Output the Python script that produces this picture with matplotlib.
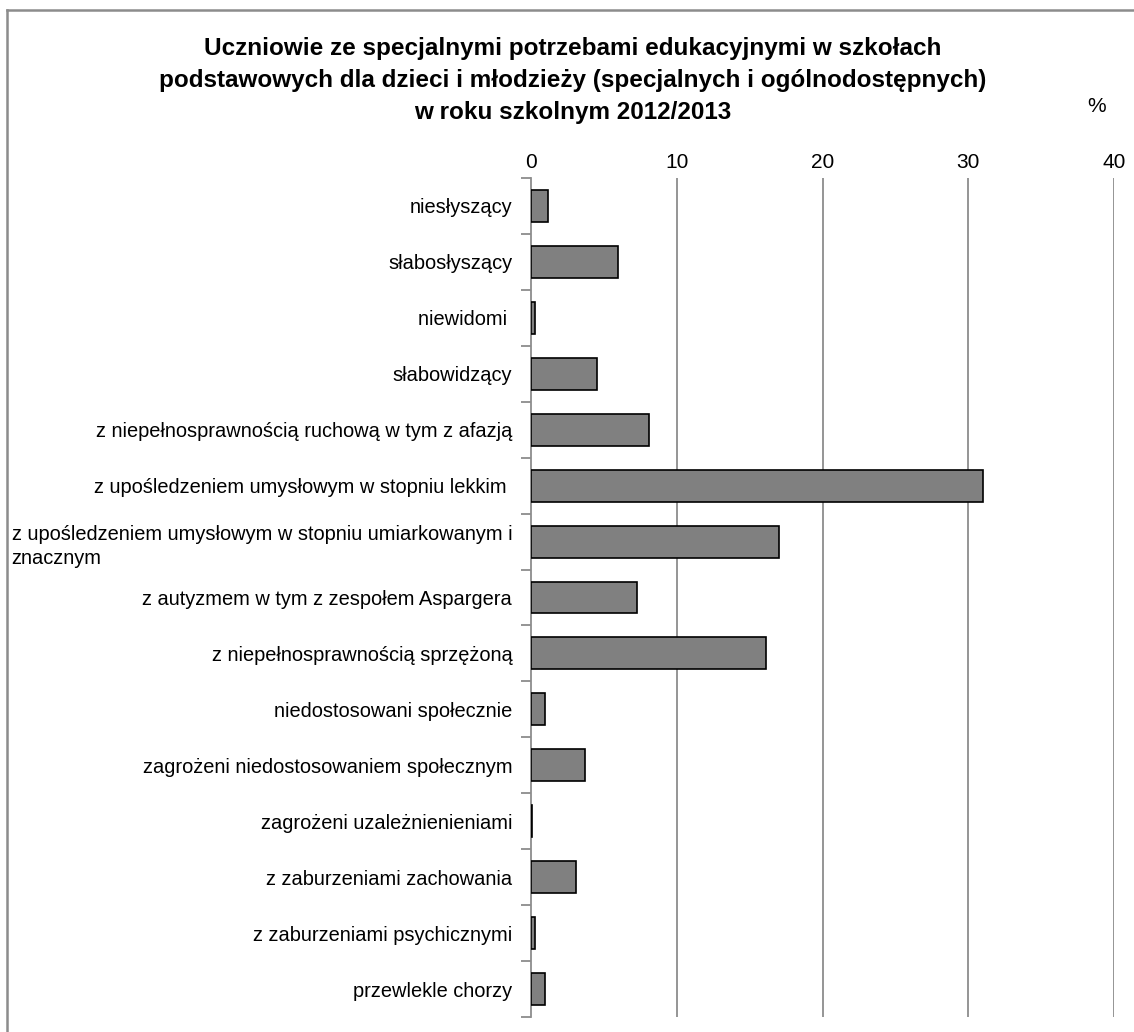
import matplotlib
matplotlib.use("Agg")
import matplotlib.pyplot as plt
from matplotlib.lines import Line2D

categories = [
    "niesłyszący",
    "słabosłyszący",
    "niewidomi ",
    "słabowidzący",
    "z niepełnosprawnością ruchową w tym z afazją",
    "z upośledzeniem umysłowym w stopniu lekkim ",
    "z upośledzeniem umysłowym w stopniu umiarkowanym i\nznacznym",
    "z autyzmem w tym z zespołem Aspargera",
    "z niepełnosprawnością sprzężoną",
    "niedostosowani społecznie",
    "zagrożeni niedostosowaniem społecznym",
    "zagrożeni uzależnienieniami",
    "z zaburzeniami zachowania",
    "z zaburzeniami psychicznymi",
    "przewlekle chorzy",
]
values = [1.2, 6.0, 0.25, 4.5, 8.1, 31.0, 17.0, 7.3, 16.1, 0.95, 3.7, 0.05, 3.1, 0.3, 0.95]
xticks = [0, 10, 20, 30, 40]

title = ("Uczniowie ze specjalnymi potrzebami edukacyjnymi w szkołach\n"
         "podstawowych dla dzieci i młodzieży (specjalnych i ogólnodostępnych)\n"
         "w roku szkolnym 2012/2013")

plt.rcParams['font.family'] = ['Liberation Sans', 'DejaVu Sans']

fig = plt.figure(figsize=(11.34, 10.32), dpi=100)
ax = fig.add_axes([531 / 1134, 1 - 1017 / 1032, 583 / 1134, 839 / 1032])

pos = list(range(len(categories)))
ax.barh(pos, values, height=0.57, color='#808080', edgecolor='black', linewidth=1.2, zorder=3)
ax.set_ylim(len(categories) - 0.5, -0.5)
ax.set_xlim(0, 40)

ax.set_xticks(xticks)
ax.xaxis.tick_top()
ax.tick_params(axis='x', length=0, labelsize=15, pad=4)
for x in xticks[1:]:
    ax.axvline(x, color='#8c8c8c', lw=1.3, zorder=1)

# separators between categories as major ticks, labels on minor ticks
ax.set_yticks([p + 0.5 for p in pos[:-1]] + [-0.5, len(categories) - 0.5])
ax.set_yticklabels([])
ax.set_yticks(pos, minor=True)
ax.set_yticklabels(categories, minor=True)
ax.tick_params(axis='y', which='major', length=7, color='#8c8c8c', width=1.3)
ax.tick_params(axis='y', which='minor', length=0, labelsize=14.4, pad=13.5)
for lab in ax.get_yticklabels(minor=True):
    lab.set_multialignment('left')
    lab.set_linespacing(1.35)

for s in ['top', 'right', 'bottom']:
    ax.spines[s].set_visible(False)
ax.spines['left'].set_color('#8c8c8c')
ax.spines['left'].set_linewidth(1.3)

fig.text(573 / 1134, 1 - 81 / 1032, title, ha='center', va='center', fontsize=17.5,
         fontweight='bold', family=['Liberation Sans Narrow', 'Liberation Sans', 'DejaVu Sans'],
         linespacing=1.5)
fig.text(1097 / 1134, 1 - 106 / 1032, "%", ha='center', va='center', fontsize=15)

# outer frame (only top and left edges are visible in the source)
fig.add_artist(Line2D([6.5 / 1134, 6.5 / 1134], [0, 1 - 9.5 / 1032], transform=fig.transFigure,
                      color='#8c8c8c', lw=1.8))
fig.add_artist(Line2D([6.5 / 1134, 1], [1 - 9.5 / 1032, 1 - 9.5 / 1032], transform=fig.transFigure,
                      color='#8c8c8c', lw=1.8))

fig.savefig("out.png", dpi=100)
